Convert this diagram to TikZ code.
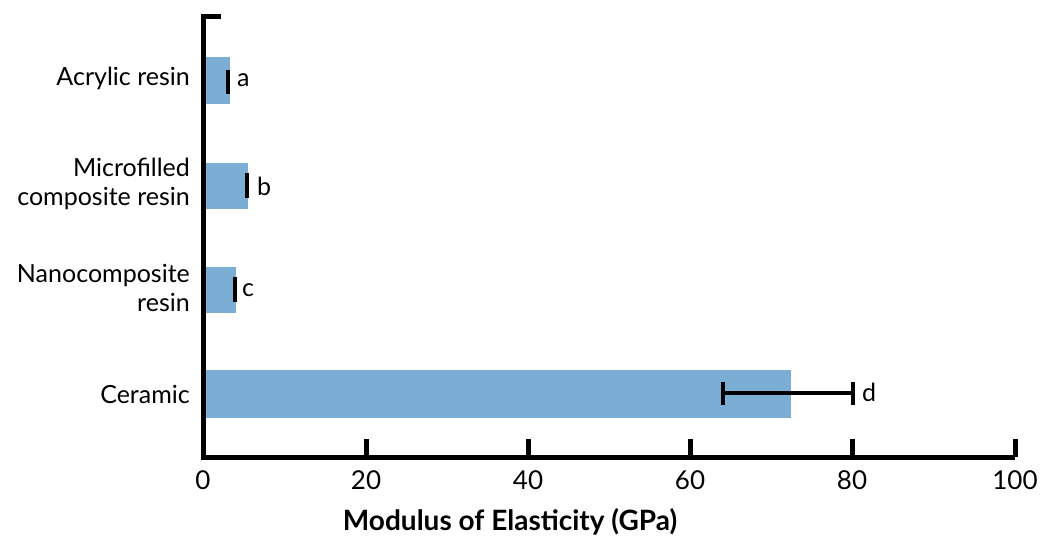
\documentclass[tikz,border=0pt]{standalone}
\usepackage{fontspec}
\setmainfont{Lato}
\definecolor{barblue}{HTML}{7BAED4}
\begin{document}
\begin{tikzpicture}[x=1pt,y=-1pt,
  catlabel/.style={anchor=east,align=right,font=\fontsize{25}{29}\selectfont,inner sep=0pt},
  ticklabel/.style={anchor=center,font=\fontsize{26}{30}\selectfont,inner sep=0pt},
  sig/.style={anchor=west,font=\fontsize{25}{29}\selectfont,inner sep=0pt},
  bar/.style={fill=barblue},
  axisline/.style={line width=5pt},
  errline/.style={line width=3.5pt},
  errcap/.style={line width=4.5pt}]
\useasboundingbox (0,0) rectangle (1042,540);
% bars
\fill[bar] (203,57) rectangle (230,104);
\fill[bar] (203,163) rectangle (248,209);
\fill[bar] (203,267) rectangle (236,313);
\fill[bar] (203,370) rectangle (791,418);
% axes
\coordinate (top) at (203,17);
\coordinate (topend) at (221,17);
\coordinate (origin) at (203,457);
\coordinate (xend) at (1015,457);
\draw[axisline] (topend) -- (top) -- (origin) -- (xend);
\foreach \v/\px in {20/366,40/528,60/690,80/852,100/1015}{
  \coordinate (t\v) at (\px,457);
  \coordinate (tt\v) at (\px,439);
  \draw[axisline] (t\v) -- (tt\v);
}
% tick labels
\foreach \v/\px in {0/203,20/366,40/528,60/690,80/852,100/1015}{
  \node[ticklabel] (l\v) at (\px,480) {\v};
}
% error bars
\coordinate (ea1) at (228,70); \coordinate (ea2) at (228,94);
\draw[errcap] (ea1) -- (ea2);
\coordinate (eb1) at (247,173); \coordinate (eb2) at (247,198);
\draw[errcap] (eb1) -- (eb2);
\coordinate (ec1) at (235,277); \coordinate (ec2) at (235,302);
\draw[errcap] (ec1) -- (ec2);
\coordinate (ed1) at (723,393); \coordinate (ed2) at (853,393);
\draw[errline] (ed1) -- (ed2);
\draw[errcap] (723,382) -- (723,405);
\draw[errcap] (853,382) -- (853,405);
% significance letters
\node[sig] (sa) at (237,80) {a};
\node[sig] (sb) at (257,186) {b};
\node[sig] (sc) at (242,290) {c};
\node[sig] (sd) at (862,392) {d};
% category labels
\node[catlabel] (c1) at (190,78) {Acrylic resin};
\node[catlabel] (c2) at (190,184) {Microfilled\\composite resin};
\node[catlabel] (c3) at (190,288) {Nanocomposite\\resin};
\node[catlabel] (c4) at (190,394) {Ceramic};
% axis title
\node[font=\fontsize{28}{32}\selectfont\bfseries,inner sep=0pt] (title) at (510,522) {Modulus of Elasticity (GPa)};
\end{tikzpicture}
\end{document}
